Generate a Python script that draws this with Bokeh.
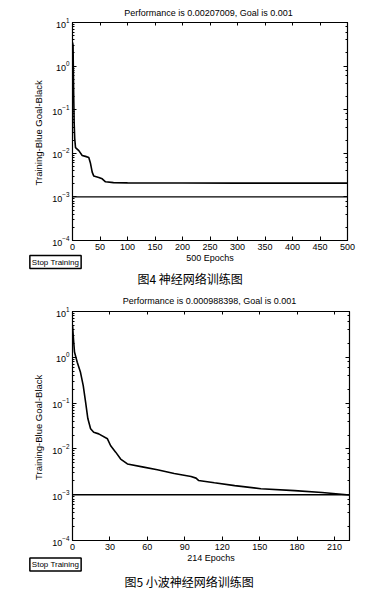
from bokeh.plotting import figure
from bokeh.models import Range1d, FixedTicker, LogAxis, LinearAxis, Label, Span
from bokeh.layouts import column
from bokeh.embed import file_html
from bokeh.resources import INLINE

# ---- Figure 4: BP neural network training ----
title_nn = "Performance is 0.00207009, Goal is 0.001"
xlabel_nn = "500 Epochs"
caption_nn = "图4  神经网络训练图"
xticks_nn = [0, 50, 100, 150, 200, 250, 300, 350, 400, 450, 500]
epochs_nn = [0, 1, 2, 3, 4, 5.5, 11.5, 17.6, 23.6, 29.6, 32.7, 35.8, 38.7, 47.8,
             54, 60, 74.5, 100, 200, 300, 400, 500]
perf_nn = [3.5, 3.0, 0.3, 0.05, 0.022, 0.0135, 0.0115, 0.0089, 0.0085, 0.0080,
           0.0059, 0.0037, 0.0030, 0.0028, 0.0026, 0.00222, 0.00213, 0.00210,
           0.00208, 0.00207, 0.00207, 0.00207]
goal_nn = 0.001
xmax_nn = 500

# ---- Figure 5: wavelet neural network training ----
title_wnn = "Performance is 0.000988398, Goal is 0.001"
xlabel_wnn = "214 Epochs"
caption_wnn = "图5  小波神经网络训练图"
xticks_wnn = [0, 30, 60, 90, 120, 150, 180, 210]
epochs_wnn = [0, 1, 1.6, 3.8, 6.4, 8.6, 10.5, 12.3, 14.5, 17, 21, 28, 30.6, 34.6,
              38.6, 44, 57, 68, 81.5, 95, 99, 101, 113.7, 130, 151, 178, 200, 222]
perf_wnn = [5.0, 2.1, 1.3, 0.78, 0.47, 0.24, 0.105, 0.046, 0.0275, 0.023, 0.0213,
            0.0166, 0.0117, 0.0085, 0.006, 0.0047, 0.0040, 0.0035, 0.0029, 0.0025,
            0.0023, 0.00205, 0.00182, 0.00158, 0.00135, 0.00123, 0.00112, 0.000988]
goal_wnn = 0.001
xmax_wnn = 222

ylabel = "Training-Blue  Goal-Black"
button_text = "Stop Training"
FONT = "Liberation Sans"
CJK = "Noto Sans CJK SC"

W = 389
H = 593


def make_plot(xlabel, xticks, xs, ys, goal, xmax, fw, fh, left, top, bottom, right):
    p = figure(frame_width=fw, frame_height=fh, y_axis_type="log",
               x_range=Range1d(0, xmax), y_range=Range1d(1e-4, 1e1),
               output_backend="svg", toolbar_location=None,
               min_border_left=left, min_border_right=right,
               min_border_top=top, min_border_bottom=bottom)
    p.background_fill_color = "white"
    p.border_fill_color = "white"
    p.outline_line_color = "black"
    p.outline_line_width = 1.2
    p.grid.visible = False

    for ax in (p.xaxis[0], p.yaxis[0]):
        ax.major_tick_in = 4
        ax.major_tick_out = 0
        ax.minor_tick_in = 2
        ax.minor_tick_out = 0
        ax.axis_line_color = "black"
        ax.major_label_text_font = FONT
        ax.major_label_text_font_size = "9px"
        ax.major_label_text_color = "black"
        ax.axis_label_text_font = FONT
        ax.axis_label_text_font_style = "normal"
        ax.axis_label_text_color = "black"
    p.xaxis.ticker = FixedTicker(ticks=xticks)
    p.xaxis.minor_tick_line_color = None
    p.xaxis.axis_label = xlabel
    p.xaxis.axis_label_text_font_size = "9px"
    p.xaxis.major_label_standoff = 3
    p.xaxis.axis_label_standoff = 0
    p.yaxis.axis_label = ylabel
    p.yaxis.axis_label_text_font_size = "9.5px"
    p.yaxis.major_label_standoff = 3
    p.yaxis.axis_label_standoff = 5

    top_ax = LinearAxis(ticker=FixedTicker(ticks=xticks), major_label_text_font_size="2px",
                        major_label_text_color=None, major_label_standoff=0,
                        major_tick_in=3, major_tick_out=0, minor_tick_line_color=None)
    right_ax = LogAxis(major_label_text_font_size="2px", major_label_text_color=None,
                       major_label_standoff=0, major_tick_in=4, major_tick_out=0,
                       minor_tick_in=2, minor_tick_out=0)
    p.add_layout(top_ax, "above")
    p.add_layout(right_ax, "right")

    p.line(xs, ys, line_color="black", line_width=1.6)
    p.add_layout(Span(location=goal, dimension="width", line_color="black", line_width=1.4))
    return p


p1 = make_plot(xlabel_nn, xticks_nn, epochs_nn, perf_nn, goal_nn, xmax_nn,
               fw=275, fh=218, left=72, top=22, bottom=50, right=34)
p2 = make_plot(xlabel_wnn, xticks_wnn, epochs_wnn, perf_wnn, goal_wnn, xmax_wnn,
               fw=277, fh=229, left=72, top=21, bottom=50, right=32)

# transparent overlay (separate root, absolutely positioned over the page)
# that carries the texts lying outside the plot frames
ov = figure(width=W, height=H, x_range=Range1d(0, W), y_range=Range1d(H, 0),
            x_axis_location=None, y_axis_location=None, min_border=0,
            output_backend="svg", toolbar_location=None,
            styles={"position": "absolute", "top": "0px", "left": "0px"})
ov.grid.visible = False
ov.outline_line_color = None
ov.background_fill_color = None
ov.border_fill_color = None


def add_texts(title, caption, title_xy, button_xy, caption_xy):
    ov.add_layout(Label(x=title_xy[0], y=title_xy[1], text=title, text_align="center",
                        text_baseline="middle", text_font=FONT, text_font_size="9px",
                        text_color="black"))
    ov.add_layout(Label(x=button_xy[0], y=button_xy[1], text=button_text, text_align="center",
                        text_baseline="middle", text_font=FONT, text_font_size="8px",
                        text_color="black", border_line_color="black", border_line_width=1.5,
                        background_fill_color="white", padding=2))
    ov.add_layout(Label(x=caption_xy[0], y=caption_xy[1], text=caption, text_align="center",
                        text_baseline="middle", text_font=CJK, text_font_size="12px",
                        text_color="black"))


add_texts(title_nn, caption_nn, (208, 12), (55, 261.5), (191, 278))
add_texts(title_wnn, caption_wnn, (209, 300), (55, 564), (190, 581))

open("out.html", "w").write(file_html([column(p1, p2), ov], INLINE))
